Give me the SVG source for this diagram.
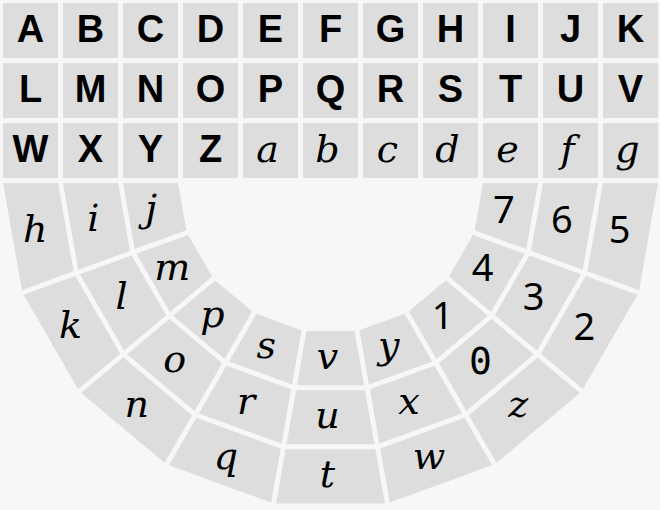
<svg xmlns="http://www.w3.org/2000/svg" width="660" height="510" viewBox="0 0 660 510">
<style>
.k{fill:#dddddd}
.U{font-family:"Liberation Sans",Arial,sans-serif;font-weight:bold;font-size:38px;text-anchor:middle;fill:#000}
.L{font-family:"DejaVu Serif",serif;font-style:italic;font-size:38px;text-anchor:middle;fill:#000}
.D{font-family:"Noto Sans",sans-serif;font-size:38px;text-anchor:middle;fill:#000}
.M{font-family:"DejaVu Sans Mono",monospace;font-size:38px;text-anchor:middle;fill:#000}
</style>
<defs>
<polygon id="ti" points="-24.02,150.60 24.02,150.60 33.57,204.77 -33.57,204.77"/>
<polygon id="tm" points="-34.44,209.69 34.44,209.69 43.99,263.86 -43.99,263.86"/>
<polygon id="to" points="-44.86,268.78 44.86,268.78 54.41,322.95 -54.41,322.95"/>
</defs>
<rect width="660" height="510" fill="#f7f7f7"/>
<g id="grid">
<g id="key-A"><rect class="k" x="3" y="3" width="55" height="55"/><text class="U" x="30.5" y="42">A</text></g>
<g id="key-B"><rect class="k" x="63" y="3" width="55" height="55"/><text class="U" x="90.5" y="42">B</text></g>
<g id="key-C"><rect class="k" x="123" y="3" width="55" height="55"/><text class="U" x="150.5" y="42">C</text></g>
<g id="key-D"><rect class="k" x="183" y="3" width="55" height="55"/><text class="U" x="210.5" y="42">D</text></g>
<g id="key-E"><rect class="k" x="243" y="3" width="55" height="55"/><text class="U" x="270.5" y="42">E</text></g>
<g id="key-F"><rect class="k" x="303" y="3" width="55" height="55"/><text class="U" x="330.5" y="42">F</text></g>
<g id="key-G"><rect class="k" x="363" y="3" width="55" height="55"/><text class="U" x="390.5" y="42">G</text></g>
<g id="key-H"><rect class="k" x="423" y="3" width="55" height="55"/><text class="U" x="450.5" y="42">H</text></g>
<g id="key-I"><rect class="k" x="483" y="3" width="55" height="55"/><text class="U" x="510.5" y="42">I</text></g>
<g id="key-J"><rect class="k" x="543" y="3" width="55" height="55"/><text class="U" x="570.5" y="42">J</text></g>
<g id="key-K"><rect class="k" x="603" y="3" width="55" height="55"/><text class="U" x="630.5" y="42">K</text></g>
<g id="key-L"><rect class="k" x="3" y="63" width="55" height="55"/><text class="U" x="30.5" y="102">L</text></g>
<g id="key-M"><rect class="k" x="63" y="63" width="55" height="55"/><text class="U" x="90.5" y="102">M</text></g>
<g id="key-N"><rect class="k" x="123" y="63" width="55" height="55"/><text class="U" x="150.5" y="102">N</text></g>
<g id="key-O"><rect class="k" x="183" y="63" width="55" height="55"/><text class="U" x="210.5" y="102">O</text></g>
<g id="key-P"><rect class="k" x="243" y="63" width="55" height="55"/><text class="U" x="270.5" y="102">P</text></g>
<g id="key-Q"><rect class="k" x="303" y="63" width="55" height="55"/><text class="U" x="330.5" y="102">Q</text></g>
<g id="key-R"><rect class="k" x="363" y="63" width="55" height="55"/><text class="U" x="390.5" y="102">R</text></g>
<g id="key-S"><rect class="k" x="423" y="63" width="55" height="55"/><text class="U" x="450.5" y="102">S</text></g>
<g id="key-T"><rect class="k" x="483" y="63" width="55" height="55"/><text class="U" x="510.5" y="102">T</text></g>
<g id="key-U"><rect class="k" x="543" y="63" width="55" height="55"/><text class="U" x="570.5" y="102">U</text></g>
<g id="key-V"><rect class="k" x="603" y="63" width="55" height="55"/><text class="U" x="630.5" y="102">V</text></g>
<g id="key-W"><rect class="k" x="3" y="123" width="55" height="55"/><text class="U" x="30.5" y="162">W</text></g>
<g id="key-X"><rect class="k" x="63" y="123" width="55" height="55"/><text class="U" x="90.5" y="162">X</text></g>
<g id="key-Y"><rect class="k" x="123" y="123" width="55" height="55"/><text class="U" x="150.5" y="162">Y</text></g>
<g id="key-Z"><rect class="k" x="183" y="123" width="55" height="55"/><text class="U" x="210.5" y="162">Z</text></g>
<g id="key-a"><rect class="k" x="243" y="123" width="55" height="55"/><text class="L" x="267.5" y="162">a</text></g>
<g id="key-b"><rect class="k" x="303" y="123" width="55" height="55"/><text class="L" x="327.5" y="162">b</text></g>
<g id="key-c"><rect class="k" x="363" y="123" width="55" height="55"/><text class="L" x="387.5" y="162">c</text></g>
<g id="key-d"><rect class="k" x="423" y="123" width="55" height="55"/><text class="L" x="447.5" y="162">d</text></g>
<g id="key-e"><rect class="k" x="483" y="123" width="55" height="55"/><text class="L" x="507.5" y="162">e</text></g>
<g id="key-f"><rect class="k" x="543" y="123" width="55" height="55"/><text class="L" x="567.5" y="162">f</text></g>
<g id="key-g"><rect class="k" x="603" y="123" width="55" height="55"/><text class="L" x="627.5" y="162">g</text></g>
</g>
<g id="arc">
<g id="sector-1" transform="translate(330.5 180.5) rotate(80)">
<g id="key-h"><use href="#to" class="k"/><text class="L" transform="translate(0 296.73) rotate(-80)" x="-3" y="9.5">h</text></g>
<g id="key-i"><use href="#tm" class="k"/><text class="L" transform="translate(0 237.87) rotate(-80)" x="-3" y="9.5">i</text></g>
<g id="key-j"><use href="#ti" class="k"/><text class="L" transform="translate(0 179.18) rotate(-80)" x="-3" y="9.5">j</text></g>
</g>
<g id="sector-2" transform="translate(330.5 180.5) rotate(60)">
<g id="key-k"><use href="#to" class="k"/><text class="L" transform="translate(0 296.73) rotate(-60)" x="-3" y="9.5">k</text></g>
<g id="key-l"><use href="#tm" class="k"/><text class="L" transform="translate(0 237.87) rotate(-60)" x="-3" y="9.5">l</text></g>
<g id="key-m"><use href="#ti" class="k"/><text class="L" transform="translate(0 179.18) rotate(-60)" x="-3" y="9.5">m</text></g>
</g>
<g id="sector-3" transform="translate(330.5 180.5) rotate(40)">
<g id="key-n"><use href="#to" class="k"/><text class="L" transform="translate(0 296.73) rotate(-40)" x="-3" y="9.5">n</text></g>
<g id="key-o"><use href="#tm" class="k"/><text class="L" transform="translate(0 237.87) rotate(-40)" x="-3" y="9.5">o</text></g>
<g id="key-p"><use href="#ti" class="k"/><text class="L" transform="translate(0 179.18) rotate(-40)" x="-3" y="9.5">p</text></g>
</g>
<g id="sector-4" transform="translate(330.5 180.5) rotate(20)">
<g id="key-q"><use href="#to" class="k"/><text class="L" transform="translate(0 296.73) rotate(-20)" x="-3" y="9.5">q</text></g>
<g id="key-r"><use href="#tm" class="k"/><text class="L" transform="translate(0 237.87) rotate(-20)" x="-3" y="9.5">r</text></g>
<g id="key-s"><use href="#ti" class="k"/><text class="L" transform="translate(0 179.18) rotate(-20)" x="-3" y="9.5">s</text></g>
</g>
<g id="sector-5" transform="translate(330.5 180.5)">
<g id="key-t"><use href="#to" class="k"/><text class="L" transform="translate(0 296.73)" x="-3" y="9.5">t</text></g>
<g id="key-u"><use href="#tm" class="k"/><text class="L" transform="translate(0 237.87)" x="-3" y="9.5">u</text></g>
<g id="key-v"><use href="#ti" class="k"/><text class="L" transform="translate(0 179.18)" x="-3" y="9.5">v</text></g>
</g>
<g id="sector-6" transform="translate(330.5 180.5) rotate(-20)">
<g id="key-w"><use href="#to" class="k"/><text class="L" transform="translate(0 296.73) rotate(20)" x="-3" y="9.5">w</text></g>
<g id="key-x"><use href="#tm" class="k"/><text class="L" transform="translate(0 237.87) rotate(20)" x="-3" y="9.5">x</text></g>
<g id="key-y"><use href="#ti" class="k"/><text class="L" transform="translate(0 179.18) rotate(20)" x="-3" y="9.5">y</text></g>
</g>
<g id="sector-7" transform="translate(330.5 180.5) rotate(-40)">
<g id="key-z"><use href="#to" class="k"/><text class="L" transform="translate(0 296.73) rotate(40)" x="-3" y="9.5">z</text></g>
<g id="key-0"><use href="#tm" class="k"/><text class="M" transform="translate(0 237.87) rotate(40)" x="-3" y="11">0</text></g>
<g id="key-1"><use href="#ti" class="k"/><text class="D" transform="translate(0 179.18) rotate(40)" x="-3" y="11">1</text></g>
</g>
<g id="sector-8" transform="translate(330.5 180.5) rotate(-60)">
<g id="key-2"><use href="#to" class="k"/><text class="D" transform="translate(0 296.73) rotate(60)" x="-3" y="11">2</text></g>
<g id="key-3"><use href="#tm" class="k"/><text class="D" transform="translate(0 237.87) rotate(60)" x="-3" y="11">3</text></g>
<g id="key-4"><use href="#ti" class="k"/><text class="D" transform="translate(0 179.18) rotate(60)" x="-3" y="11">4</text></g>
</g>
<g id="sector-9" transform="translate(330.5 180.5) rotate(-80)">
<g id="key-5"><use href="#to" class="k"/><text class="D" transform="translate(0 296.73) rotate(80)" x="-3" y="11">5</text></g>
<g id="key-6"><use href="#tm" class="k"/><text class="D" transform="translate(0 237.87) rotate(80)" x="-3" y="11">6</text></g>
<g id="key-7"><use href="#ti" class="k"/><text class="D" transform="translate(0 179.18) rotate(80)" x="-3" y="11">7</text></g>
</g>
</g>
</svg>
